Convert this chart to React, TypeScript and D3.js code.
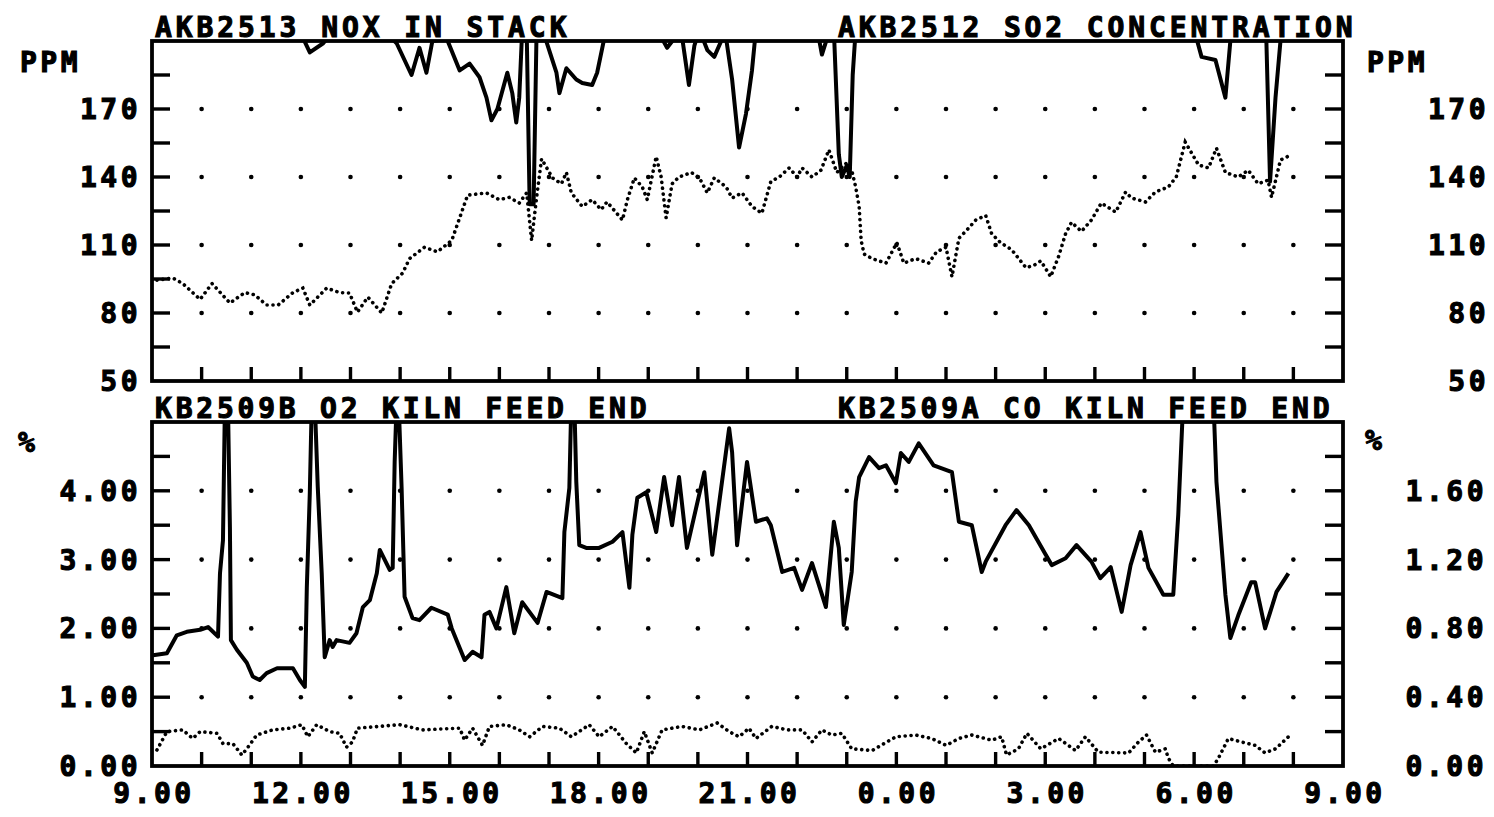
import * as d3 from 'd3';

// hours after 9.00 (0 = 9.00, 24 = 9.00 next day)
const xTickLabels = ['9.00', '12.00', '15.00', '18.00', '21.00', '0.00', '3.00', '6.00', '9.00'];
const ppmTicks = [50, 80, 110, 140, 170];
const o2Ticks = [0, 1, 2, 3, 4];
const coTicks = ['0.00', '0.40', '0.80', '1.20', '1.60'];

// AKB2512 SO2 CONCENTRATION (dotted, PPM)
const so2Hours = [0.1, 0.42, 0.62, 0.97, 1.21, 1.57, 1.87, 2.07, 2.31, 2.54, 2.84, 3.04, 3.18, 3.52, 3.78, 3.98, 4.14, 4.35, 4.63, 4.83, 5.05, 5.19, 5.49, 5.75, 6.04, 6.2, 6.36, 6.74, 7.0, 7.2, 7.4, 7.55, 7.65, 7.75, 7.85, 8.07, 8.25, 8.35, 8.45, 8.67, 8.87, 9.05, 9.17, 9.48, 9.58, 9.72, 9.88, 9.98, 10.16, 10.26, 10.36, 10.48, 10.62, 10.87, 11.03, 11.19, 11.33, 11.57, 11.69, 11.89, 12.09, 12.29, 12.47, 12.64, 12.84, 13.0, 13.1, 13.3, 13.48, 13.64, 13.8, 13.98, 14.1, 14.18, 14.25, 14.29, 14.35, 14.51, 14.79, 15.01, 15.15, 15.39, 15.65, 15.81, 16.0, 16.12, 16.26, 16.42, 16.6, 16.8, 16.92, 17.1, 17.32, 17.61, 17.77, 17.91, 18.11, 18.27, 18.41, 18.53, 18.73, 18.93, 19.13, 19.42, 19.62, 19.74, 20.02, 20.22, 20.48, 20.64, 20.82, 21.09, 21.29, 21.45, 21.63, 21.89, 22.09, 22.29, 22.49, 22.56, 22.74, 22.94];
const so2Values = [94.5, 95.4, 93, 86, 93, 84.4, 89, 88, 83.5, 83.5, 89, 91, 83.5, 91, 89, 88.8, 80.4, 87, 80, 93, 97.6, 104, 109, 107, 112, 122, 132, 133, 130, 131, 128.5, 133, 112, 131, 148, 139.6, 137, 142, 133, 127, 130, 125.6, 129, 121, 130, 139.6, 135.6, 130, 149, 140, 122, 137, 140, 142, 139.6, 133, 139.6, 135.6, 130.7, 133, 127, 124, 138, 140, 144, 140, 144, 140, 143, 152, 142, 146, 143, 135.6, 127, 112, 106, 104, 102, 111, 102, 104, 102, 107, 109, 96, 113, 116.6, 121, 123, 115, 111, 108, 100, 101, 103, 96, 105, 115, 120, 116, 121, 128.5, 124.5, 133.4, 130.7, 129, 133.4, 135.6, 140, 155.4, 145.3, 144, 152.7, 142, 140, 143, 137, 138.6, 131, 147.5, 149.6];

// AKB2513 NOX IN STACK (solid, PPM) - runs off the top of the scale much of the time
const noxHours = [0, 2.98, 3.05, 3.18, 3.45, 3.6, 4.2, 4.93, 5.23, 5.39, 5.53, 5.65, 5.94, 6.2, 6.4, 6.6, 6.74, 6.84, 6.96, 7.16, 7.26, 7.34, 7.4, 7.46, 7.55, 7.61, 7.69, 7.75, 7.87, 8.15, 8.21, 8.35, 8.55, 8.67, 8.87, 8.97, 9.15, 10.0, 10.28, 10.38, 10.52, 10.68, 10.82, 10.93, 11.03, 11.19, 11.33, 11.47, 11.57, 11.69, 11.83, 11.97, 12.09, 12.17, 12.84, 13.44, 13.5, 13.6, 13.74, 13.84, 13.9, 14.0, 14.06, 14.12, 14.18, 17.06, 21.05, 21.15, 21.43, 21.63, 21.69, 21.75, 22.45, 22.53, 22.64, 22.76, 22.94];
const noxValues = [215, 215, 201, 195, 199, 203, 215, 199, 185, 197, 186, 200, 201, 187, 190, 184, 175, 165, 170, 186, 177, 164, 175, 205, 205, 128, 128, 205, 205, 186, 177, 188, 183, 181.5, 180.6, 186, 205, 215, 201, 197, 201, 202, 180.6, 198, 205, 196, 193, 200, 201, 183, 153, 168, 187, 205, 215, 201, 194, 201, 205, 150, 140, 145, 140, 185, 205, 215, 201, 193, 191.6, 175, 190, 205, 205, 138, 175, 205, 215];

// KB2509B O2 KILN FEED END (solid, %)
const o2Hours = [0.02, 0.3, 0.5, 0.7, 0.97, 1.13, 1.33, 1.37, 1.43, 1.47, 1.53, 1.57, 1.59, 1.71, 1.91, 2.03, 2.17, 2.31, 2.52, 2.84, 2.98, 3.08, 3.12, 3.18, 3.22, 3.28, 3.34, 3.42, 3.48, 3.58, 3.64, 3.72, 3.98, 4.12, 4.25, 4.39, 4.53, 4.59, 4.79, 4.85, 4.89, 4.93, 4.97, 5.03, 5.09, 5.25, 5.39, 5.63, 5.96, 6.04, 6.3, 6.46, 6.64, 6.7, 6.8, 6.94, 7.14, 7.3, 7.46, 7.77, 7.95, 8.27, 8.31, 8.41, 8.45, 8.51, 8.55, 8.61, 8.75, 9.01, 9.28, 9.48, 9.62, 9.68, 9.78, 9.96, 10.16, 10.32, 10.48, 10.62, 10.78, 11.13, 11.29, 11.63, 11.69, 11.79, 11.99, 12.17, 12.39, 12.47, 12.7, 12.94, 13.1, 13.3, 13.58, 13.74, 13.84, 13.94, 14.1, 14.18, 14.25, 14.45, 14.65, 14.79, 14.99, 15.09, 15.25, 15.45, 15.75, 16.12, 16.26, 16.52, 16.72, 16.8, 17.2, 17.42, 17.67, 18.01, 18.13, 18.41, 18.63, 18.93, 19.11, 19.32, 19.54, 19.72, 19.92, 20.08, 20.38, 20.58, 20.68, 20.78, 21.39, 21.45, 21.63, 21.73, 21.89, 22.15, 22.23, 22.43, 22.66, 22.9];
const o2Values = [1.61, 1.64, 1.9, 1.95, 1.98, 2.02, 1.88, 2.8, 3.28, 5.3, 5.3, 3.47, 1.83, 1.69, 1.5, 1.3, 1.25, 1.35, 1.42, 1.42, 1.25, 1.15, 2.6, 3.97, 5.3, 5.3, 4.06, 2.8, 1.58, 1.83, 1.73, 1.83, 1.79, 1.93, 2.31, 2.41, 2.8, 3.14, 2.85, 2.88, 4.42, 5.3, 5.3, 4.04, 2.46, 2.15, 2.12, 2.3, 2.2, 2.0, 1.54, 1.66, 1.58, 2.2, 2.24, 2.0, 2.6, 1.93, 2.38, 2.08, 2.53, 2.44, 3.4, 4.04, 5.3, 5.3, 4.13, 3.21, 3.17, 3.17, 3.26, 3.4, 2.59, 3.36, 3.9, 3.98, 3.4, 4.2, 3.5, 4.2, 3.17, 4.27, 3.07, 4.91, 4.56, 3.21, 4.42, 3.55, 3.6, 3.5, 2.82, 2.88, 2.56, 2.95, 2.31, 3.55, 3.17, 2.05, 2.82, 3.84, 4.2, 4.49, 4.33, 4.37, 4.11, 4.55, 4.42, 4.69, 4.37, 4.27, 3.55, 3.5, 2.82, 2.97, 3.5, 3.72, 3.5, 3.07, 2.92, 3.02, 3.21, 2.97, 2.73, 2.89, 2.24, 2.92, 3.4, 2.88, 2.49, 2.49, 3.65, 5.3, 5.3, 4.13, 2.49, 1.86, 2.19, 2.67, 2.67, 2.0, 2.53, 2.8];

// KB2509A CO KILN FEED END (dotted, %)
const coHours = [0.1, 0.3, 0.62, 0.82, 0.97, 1.31, 1.43, 1.63, 1.81, 1.91, 2.11, 2.43, 2.78, 3.02, 3.14, 3.32, 3.58, 3.78, 3.92, 4.04, 4.14, 4.99, 5.45, 6.2, 6.3, 6.46, 6.66, 6.8, 7.14, 7.4, 7.61, 7.87, 8.21, 8.45, 8.81, 9.01, 9.28, 9.56, 9.76, 9.92, 10.08, 10.28, 10.68, 11.03, 11.39, 11.63, 11.83, 12.03, 12.17, 12.49, 12.8, 13.1, 13.3, 13.5, 13.7, 13.9, 14.1, 14.51, 14.99, 15.39, 15.71, 16.0, 16.26, 16.52, 16.92, 17.12, 17.22, 17.46, 17.63, 17.91, 18.27, 18.61, 18.81, 19.07, 19.68, 19.88, 20.04, 20.22, 20.42, 20.48, 20.58, 21.39, 21.49, 21.69, 21.95, 22.23, 22.43, 22.64, 22.9];
const coValues = [0.093, 0.2, 0.21, 0.16, 0.2, 0.19, 0.13, 0.13, 0.064, 0.1, 0.18, 0.21, 0.22, 0.24, 0.17, 0.24, 0.2, 0.19, 0.11, 0.14, 0.22, 0.24, 0.21, 0.22, 0.15, 0.22, 0.12, 0.23, 0.24, 0.21, 0.17, 0.23, 0.22, 0.17, 0.24, 0.17, 0.23, 0.13, 0.076, 0.2, 0.076, 0.21, 0.23, 0.21, 0.25, 0.2, 0.17, 0.22, 0.16, 0.23, 0.21, 0.21, 0.14, 0.21, 0.18, 0.19, 0.1, 0.09, 0.17, 0.18, 0.16, 0.12, 0.16, 0.18, 0.15, 0.17, 0.064, 0.1, 0.19, 0.1, 0.16, 0.09, 0.17, 0.08, 0.076, 0.14, 0.18, 0.08, 0.1, 0.046, 0, 0, 0.046, 0.16, 0.14, 0.12, 0.076, 0.1, 0.17];

const W = 1494;
const H = 817;
const left = 152;
const right = 1343;
const font = "'DejaVu Sans Mono', 'Liberation Mono', monospace";

const x = d3.scaleLinear().domain([0, 24]).range([left, right]);
const yPpm = d3.scaleLinear().domain([50, 200]).range([381, 41]);
const yO2 = d3.scaleLinear().domain([0, 5]).range([766, 422]);
const yCo = d3.scaleLinear().domain([0, 2]).range([766, 422]);

const zip = (hs: number[], vs: number[]) => hs.map((h, i) => [h, vs[i]] as [number, number]);

const solid = { fill: 'none', stroke: '#000', strokeWidth: 4, strokeLinejoin: 'round' as const };
const dotted = { fill: 'none', stroke: '#000', strokeWidth: 3.6, strokeDasharray: '0.1 5.8', strokeLinecap: 'round' as const };

const hours = d3.range(1, 24);

const Panel = ({ y, ticks, tickStep, id }: any) => {
  const [lo, hi] = y.domain();
  const minor = d3.range(lo + tickStep, hi - 1e-9, tickStep);
  const top = y(hi);
  const bottom = y(lo);
  return (
    <g>
      <clipPath id={id}>
        <rect x={left} y={top} width={right - left} height={bottom - top} />
      </clipPath>
      {hours.map((h) =>
        ticks.filter((t: number) => t > lo).map((t: number) => (
          <circle key={h + '-' + t} cx={x(h)} cy={y(t)} r={2.3} fill="#000" />
        ))
      )}
      {minor.map((t: number) => (
        <g key={'m' + t}>
          <line x1={left} x2={left + 18} y1={y(t)} y2={y(t)} stroke="#000" strokeWidth={3.4} />
          <line x1={right - 18} x2={right} y1={y(t)} y2={y(t)} stroke="#000" strokeWidth={3.4} />
        </g>
      ))}
      {hours.map((h) => (
        <line key={'b' + h} x1={x(h)} x2={x(h)} y1={bottom} y2={bottom - 14} stroke="#000" strokeWidth={3.4} />
      ))}
      <rect x={left} y={top} width={right - left} height={bottom - top} fill="none" stroke="#000" strokeWidth={3.8} />
    </g>
  );
};

const App = () => {
  const line = d3.line<[number, number]>().x((d) => x(d[0]));
  const noxPath = line.y((d) => yPpm(d[1]))(zip(noxHours, noxValues));
  const so2Path = line.y((d) => yPpm(d[1]))(zip(so2Hours, so2Values));
  const o2Path = line.y((d) => yO2(d[1]))(zip(o2Hours, o2Values));
  const coPath = line.y((d) => yCo(d[1]))(zip(coHours, coValues));

  const txt = {
    fontFamily: font,
    fontWeight: 700,
    fontSize: 28,
    letterSpacing: 3.5,
    fill: '#000',
    stroke: '#000',
    strokeWidth: 1.1,
  };

  return (
    <svg width={W} height={H} style={{ position: 'absolute', left: 0, top: 0, background: '#fff', display: 'block' }}>
      <Panel y={yPpm} ticks={ppmTicks} tickStep={15} id="clipTop" />
      <Panel y={yO2} ticks={o2Ticks} tickStep={0.5} id="clipBot" />

      <g clipPath="url(#clipTop)">
        <path d={so2Path ?? ''} {...dotted} />
        <path d={noxPath ?? ''} {...solid} />
      </g>
      <g clipPath="url(#clipBot)">
        <path d={coPath ?? ''} {...dotted} />
        <path d={o2Path ?? ''} {...solid} />
      </g>

      {/* titles */}
      <text x={155} y={37} {...txt} textLength={415} lengthAdjust="spacing">AKB2513 NOX IN STACK</text>
      <text x={838} y={37} {...txt} textLength={518} lengthAdjust="spacing">AKB2512 SO2 CONCENTRATION</text>
      <text x={155} y={418} {...txt} textLength={495} lengthAdjust="spacing">KB2509B O2 KILN FEED END</text>
      <text x={838} y={418} {...txt} textLength={495} lengthAdjust="spacing">KB2509A CO KILN FEED END</text>

      {/* units */}
      <text x={20} y={72} {...txt}>PPM</text>
      <text x={1367} y={72} {...txt}>PPM</text>
      <text x={18} y={452} {...txt}>%</text>
      <text x={1365} y={450} {...txt}>%</text>

      {/* y tick labels */}
      {ppmTicks.map((t) => (
        <g key={'p' + t}>
          <text x={141} y={yPpm(t)} dy="0.36em" textAnchor="end" {...txt}>{t}</text>
          <text x={1489} y={yPpm(t)} dy="0.36em" textAnchor="end" {...txt}>{t}</text>
        </g>
      ))}
      {o2Ticks.map((t, i) => (
        <g key={'o' + t}>
          <text x={141} y={yO2(t)} dy="0.36em" textAnchor="end" {...txt}>{t.toFixed(2)}</text>
          <text x={1487} y={yO2(t)} dy="0.36em" textAnchor="end" {...txt}>{coTicks[i]}</text>
        </g>
      ))}

      {/* x tick labels */}
      {xTickLabels.map((l, i) => (
        <text key={'x' + i} x={x(i * 3) + 2} y={803} textAnchor="middle" {...txt}>{l}</text>
      ))}
    </svg>
  );
};

export default App;
